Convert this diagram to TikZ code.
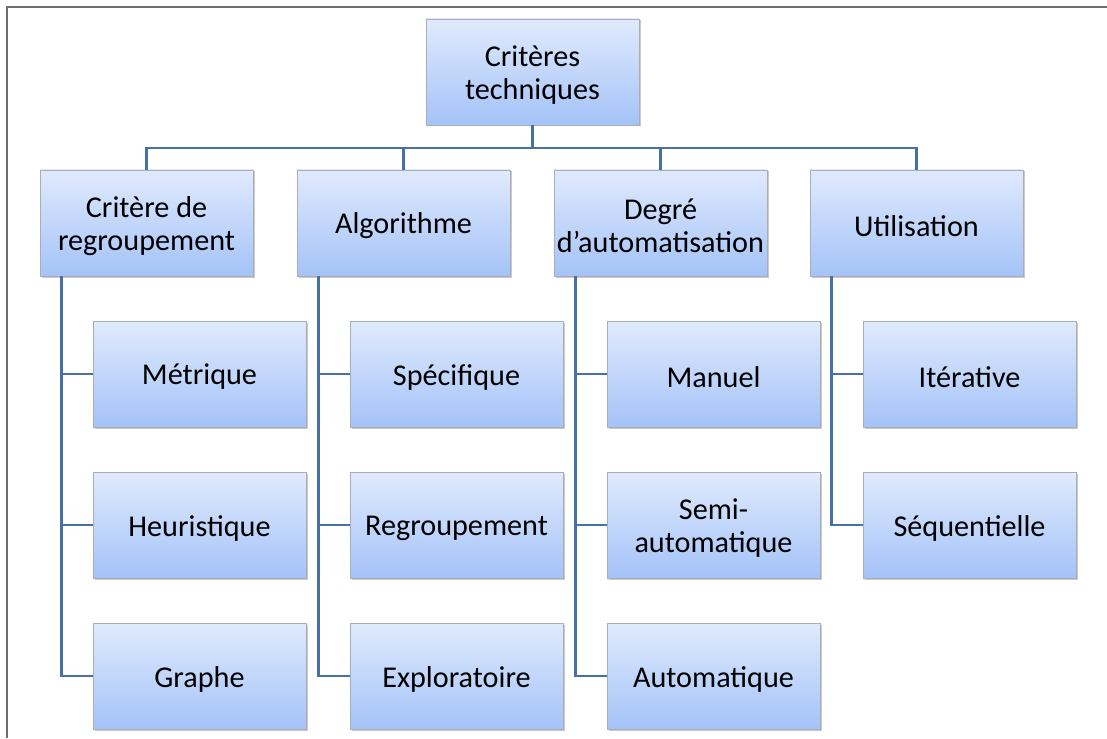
\documentclass[tikz,border=0pt]{standalone}
\usepackage{fontspec}
\setmainfont{Carlito}
\usetikzlibrary{shadows,calc}
\definecolor{boxtop}{HTML}{E0EAFD}
\definecolor{boxbot}{HTML}{A4C3F8}
\definecolor{boxline}{HTML}{A9AEB6}
\definecolor{conn}{HTML}{4670A6}
\definecolor{frame}{HTML}{6E6E6E}
\tikzset{
  box/.style={draw=boxline, line width=0.8pt, top color=boxtop, bottom color=boxbot,
    minimum width=213pt, minimum height=106pt, inner sep=0pt, align=center,
    drop shadow={shadow xshift=1.5pt, shadow yshift=-1.5pt, opacity=0.35, fill=black!60}},
  lbl/.style={align=center, font=\fontsize{30.2}{32.5}\selectfont, inner sep=0pt, yshift=-3pt},
  link/.style={draw=conn, line width=2.4pt}
}
\begin{document}
\begin{tikzpicture}[x=1pt,y=1pt]
\useasboundingbox (0,0) rectangle (1107,-738);
\fill[white] (0,0) rectangle (1107,-738);
\draw[frame, line width=1.6pt] (7,-738) -- (7,-7) -- (1107,-7);
% top
\node[box, label={[lbl]center:{Critères\\techniques}}] (top) at (532.5,-72) {};
% level 1
\node[box, label={[lbl]center:{Critère de\\regroupement}}] (c1) at (146.5,-223) {};
\node[box, label={[lbl]center:{Algorithme}}] (c2) at (403.5,-223) {};
\node[box, label={[lbl]center:{Degré\\d’automatisation}}] (c3) at (660.5,-223) {};
\node[box, label={[lbl]center:{Utilisation}}] (c4) at (916.5,-223) {};
% children
\node[box, label={[lbl]center:{Métrique}}] (a1) at (199.5,-374) {};
\node[box, label={[lbl]center:{Heuristique}}] (a2) at (199.5,-525) {};
\node[box, label={[lbl]center:{Graphe}}] (a3) at (199.5,-676) {};
\node[box, label={[lbl]center:{Spécifique}}] (b1) at (456.5,-374) {};
\node[box, label={[lbl]center:{Regroupement}}] (b2) at (456.5,-525) {};
\node[box, label={[lbl]center:{Exploratoire}}] (b3) at (456.5,-676) {};
\node[box, label={[lbl]center:{Manuel}}] (d1) at (713.5,-374) {};
\node[box, label={[lbl]center:{Semi-\\automatique}}] (d2) at (713.5,-525) {};
\node[box, label={[lbl]center:{Automatique}}] (d3) at (713.5,-676) {};
\node[box, label={[lbl]center:{Itérative}}] (e1) at (969.5,-374) {};
\node[box, label={[lbl]center:{Séquentielle}}] (e2) at (969.5,-525) {};
% bus
\coordinate (bus) at (0,-148);
\foreach \c in {c1,c2,c3,c4}{
  \draw[link] (top.south) -- (top.south |- bus) -| (\c.north);
}
\coordinate (v1) at ($(c1.south west)+(22,0)$);
\coordinate (v2) at ($(c2.south west)+(22,0)$);
\coordinate (v3) at ($(c3.south west)+(22,0)$);
\coordinate (v4) at ($(c4.south west)+(22,0)$);
\foreach \n in {a1,a2,a3}{\draw[link] (v1) |- (\n.west);}
\foreach \n in {b1,b2,b3}{\draw[link] (v2) |- (\n.west);}
\foreach \n in {d1,d2,d3}{\draw[link] (v3) |- (\n.west);}
\foreach \n in {e1,e2}{\draw[link] (v4) |- (\n.west);}
\end{tikzpicture}
\end{document}
